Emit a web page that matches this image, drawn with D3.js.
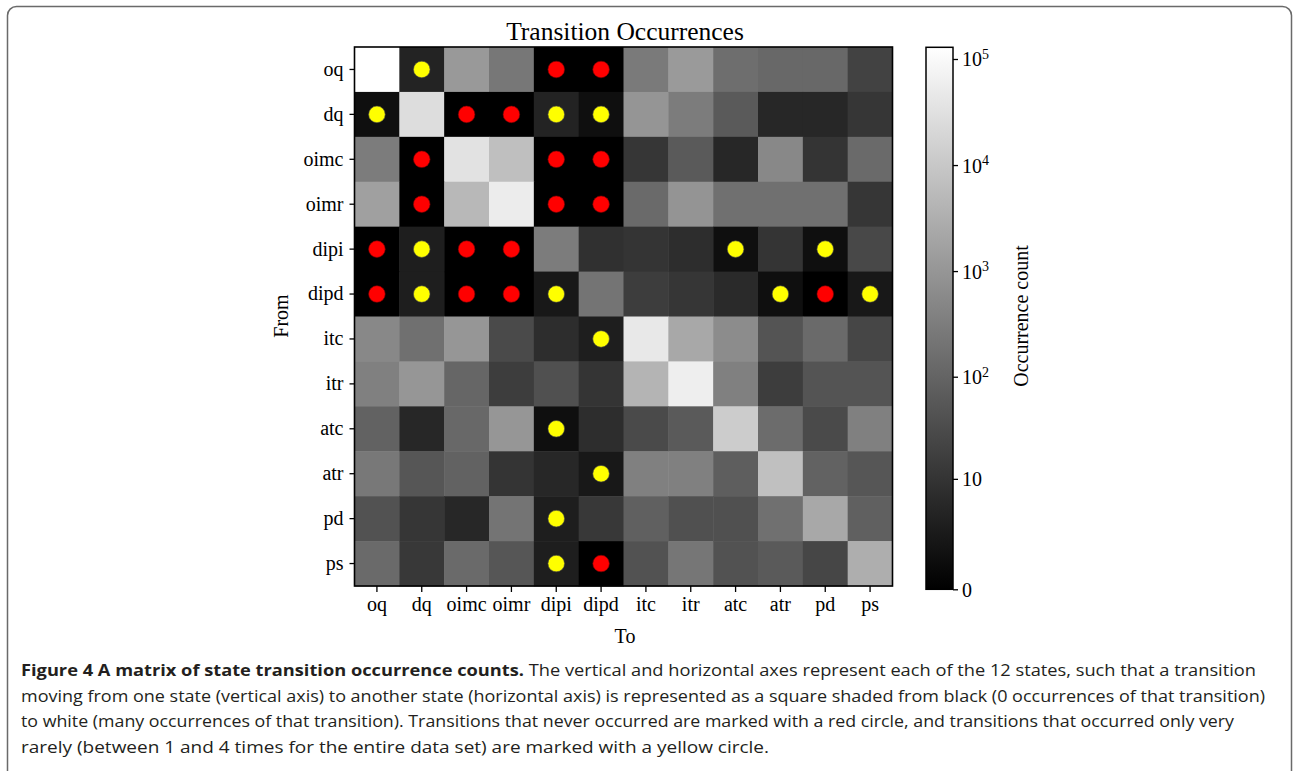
<!DOCTYPE html>
<html>
<head>
<meta charset="utf-8">
<script src="https://cdn.jsdelivr.net/npm/d3@7"></script>
<style>
  html, body { margin: 0; padding: 0; background: #fff; }
  svg { display: block; }
</style>
</head>
<body>
<svg id="chart" width="1294" height="771"></svg>
<script>
// ---- data ----
const states = ["oq", "dq", "oimc", "oimr", "dipi", "dipd", "itc", "itr", "atc", "atr", "pd", "ps"];

// transition counts: row = from-state, columns in the order of `states`
const fromOq   = [128900, 4, 1160, 240, 0, 0, 280, 1220, 160, 120, 120, 20];
const fromDq   = [1, 26800, 0, 0, 4, 1, 970, 305, 63, 5, 5, 11];
const fromOimc = [305, 0, 33800, 6700, 0, 0, 11, 63, 5, 530, 10, 132];
const fromOimr = [1600, 0, 4900, 53600, 0, 0, 132, 920, 175, 175, 175, 11];
const fromDipi = [0, 3, 0, 0, 305, 8, 10, 7, 1, 10, 1, 27];
const fromDipd = [0, 3, 0, 0, 2, 210, 16, 11, 6, 1, 0, 2];
const fromItc  = [530, 175, 1010, 29, 7, 3, 44600, 2330, 640, 47, 132, 24];
const fromItr  = [370, 1010, 110, 16, 39, 10, 4050, 58800, 370, 16, 47, 47];
const fromAtc  = [91, 5, 120, 1010, 1, 7, 29, 63, 12200, 145, 29, 370];
const fromAtr  = [253, 52, 91, 10, 5, 2, 370, 370, 75, 7000, 91, 52];
const fromPd   = [43, 11, 5, 210, 3, 12, 83, 39, 39, 175, 2330, 83];
const fromPs   = [132, 12, 132, 52, 3, 0, 43, 231, 43, 63, 24, 3070];

const colorMax = 128900;
const colorTicks = [0, 10, 100, 1000, 10000, 100000];
const colorTickBase = ["0", "10", "10", "10", "10", "10"];
const colorTickExp  = ["", "", "2", "3", "4", "5"];

const titleText = "Transition Occurrences";
const xTitle = "To";
const yTitle = "From";
const cbTitle = "Occurrence count";
const captionBold = "Figure 4 A matrix of state transition occurrence counts.";
const captionLines = [
  " The vertical and horizontal axes represent each of the 12 states, such that a transition",
  "moving from one state (vertical axis) to another state (horizontal axis) is represented as a square shaded from black (0 occurrences of that transition)",
  "to white (many occurrences of that transition). Transitions that never occurred are marked with a red circle, and transitions that occurred only very",
  "rarely (between 1 and 4 times for the entire data set) are marked with a yellow circle."
];

// ---- build ----
const rows = [fromOq, fromDq, fromOimc, fromOimr, fromDipi, fromDipd, fromItc, fromItr, fromAtc, fromAtr, fromPd, fromPs];
const cells = [];
rows.forEach((r, i) => r.forEach((v, j) => cells.push({ from: states[i], to: states[j], v })));

const svg = d3.select("#chart");
const serif = "'Liberation Serif', 'DejaVu Serif', serif";

// outer frame
svg.append("rect")
  .attr("x", 7.5).attr("y", 6.5).attr("width", 1284).attr("height", 820)
  .attr("rx", 9).attr("ry", 9)
  .attr("fill", "none").attr("stroke", "#6a6a6a").attr("stroke-width", 1.5);

const mLeft = 354.5, mRight = 892.5, mTop = 47, mBottom = 586;
const x = d3.scaleBand().domain(states).range([mLeft, mRight]);
const y = d3.scaleBand().domain(states).range([mTop, mBottom]);
const lev = d3.scaleSymlog().constant(1).domain([0, colorMax]).range([0, 1]).clamp(true);
const gray = v => d3.interpolateRgb("#000", "#fff")(lev(v));

const g = svg.append("g");
g.selectAll("rect.cell").data(cells).join("rect")
  .attr("class", "cell")
  .attr("x", d => x(d.to)).attr("y", d => y(d.from))
  .attr("width", x.bandwidth() + 0.5).attr("height", y.bandwidth() + 0.5)
  .attr("fill", d => gray(d.v));

g.selectAll("circle.mark").data(cells.filter(d => d.v <= 4)).join("circle")
  .attr("class", "mark")
  .attr("cx", d => x(d.to) + x.bandwidth() / 2)
  .attr("cy", d => y(d.from) + y.bandwidth() / 2)
  .attr("r", 8.3)
  .attr("fill", d => d.v === 0 ? "#ff0000" : "#ffff00")
  .attr("stroke", d => d.v === 0 ? "#7a0000" : "#444")
  .attr("stroke-width", 0.6);

// frame around matrix
svg.append("rect")
  .attr("x", mLeft).attr("y", mTop).attr("width", mRight - mLeft).attr("height", mBottom - mTop)
  .attr("fill", "none").attr("stroke", "#000").attr("stroke-width", 1.6);

// axes
const yAxis = svg.append("g").attr("transform", `translate(${mLeft},0)`)
  .call(d3.axisLeft(y).tickSize(5).tickPadding(6));
const xAxis = svg.append("g").attr("transform", `translate(0,${mBottom})`)
  .call(d3.axisBottom(x).tickSize(6).tickPadding(5));
[xAxis, yAxis].forEach(a => {
  a.select(".domain").remove();
  a.selectAll(".tick line").attr("stroke", "#000").attr("stroke-width", 1.3);
  a.selectAll(".tick text").attr("font-family", serif).attr("font-size", 20).attr("fill", "#000");
});

// titles
svg.append("text").attr("x", 625).attr("y", 40).attr("text-anchor", "middle")
  .attr("font-family", serif).attr("font-size", 25.5).attr("fill", "#000").text(titleText);
svg.append("text").attr("x", 625).attr("y", 643).attr("text-anchor", "middle")
  .attr("font-family", serif).attr("font-size", 20).attr("fill", "#000").text(xTitle);
svg.append("text").attr("transform", "translate(288,316) rotate(-90)").attr("text-anchor", "middle")
  .attr("font-family", serif).attr("font-size", 20).attr("fill", "#000").text(yTitle);

// colorbar
const cbX = 926, cbW = 27, cbTop = 47.3, cbBot = 589.3;
const defs = svg.append("defs");
const grad = defs.append("linearGradient").attr("id", "cbgrad")
  .attr("x1", 0).attr("y1", 1).attr("x2", 0).attr("y2", 0);
grad.append("stop").attr("offset", 0).attr("stop-color", "#000");
grad.append("stop").attr("offset", 1).attr("stop-color", "#fff");
svg.append("rect").attr("x", cbX).attr("y", cbTop).attr("width", cbW).attr("height", cbBot - cbTop)
  .attr("fill", "url(#cbgrad)").attr("stroke", "#000").attr("stroke-width", 1.5);

const cbScale = d3.scaleSymlog().constant(1).domain([0, colorMax]).range([cbBot, cbTop]);
const cbAxis = svg.append("g").attr("transform", `translate(${cbX + cbW},0)`)
  .call(d3.axisRight(cbScale).tickValues(colorTicks).tickSize(5).tickPadding(4).tickFormat(""));
cbAxis.select(".domain").remove();
cbAxis.selectAll(".tick line").attr("stroke", "#000").attr("stroke-width", 1.3);
cbAxis.selectAll(".tick text").each(function(d, i) {
  const t = d3.select(this)
    .attr("font-family", serif).attr("font-size", 20).attr("fill", "#000")
    .attr("x", 9).attr("dy", "0.35em");
  t.append("tspan").text(colorTickBase[i]);
  if (colorTickExp[i]) {
    t.append("tspan").attr("font-size", 14).attr("dy", "-0.55em").text(colorTickExp[i]);
  }
});
svg.append("text").attr("transform", "translate(1028,316) rotate(-90)").attr("text-anchor", "middle")
  .attr("font-family", serif).attr("font-size", 20).attr("fill", "#000").text(cbTitle);

// caption
const capFont = "'Open Sans', 'Noto Sans', sans-serif";
const capY = [676, 701.5, 727, 752.5];
const capEnds = [1256, 1265, 1234, 769];
captionLines.forEach((line, i) => {
  const t = svg.append("text").attr("x", 21).attr("y", capY[i])
    .attr("font-family", capFont).attr("font-size", 16.5).attr("fill", "#231f20")
    .attr("textLength", capEnds[i] - 21).attr("lengthAdjust", "spacingAndGlyphs");
  if (i === 0) t.append("tspan").attr("font-weight", "bold").text(captionBold);
  t.append("tspan").text(line);
});
</script>
</body>
</html>
